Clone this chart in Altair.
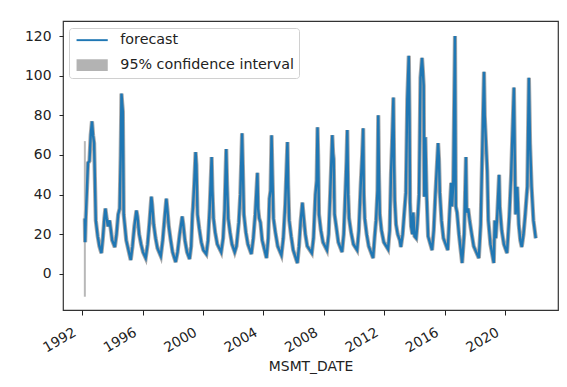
import altair as alt
import pandas as pd

# ---- data ----
dates = [
    "1992-03-05", "1992-03-12", "1992-03-25", "1992-05-20", "1992-06-25", "1992-07-25", "1992-08-25", "1992-09-20", "1992-10-15", "1992-11-25",
    "1993-01-10", "1993-02-20", "1993-04-10", "1993-05-15", "1993-06-20", "1993-07-15", "1993-08-15", "1993-09-15", "1993-10-25", "1993-11-25", "1993-12-25",
    "1994-02-28", "1994-04-10", "1994-05-20", "1994-06-25", "1994-07-20", "1994-08-08", "1994-08-25", "1994-09-10", "1994-10-01", "1994-10-25", "1994-12-01",
    "1995-03-20", "1995-05-01", "1995-06-15", "1995-08-05", "1995-08-30", "1995-10-10", "1995-11-25",
    "1996-01-10", "1996-03-15", "1996-05-01", "1996-06-15", "1996-07-31", "1996-08-20", "1996-09-25", "1996-11-10", "1996-12-25",
    "1997-03-15", "1997-05-01", "1997-06-15", "1997-07-28", "1997-08-20", "1997-09-25", "1997-11-10", "1997-12-25",
    "1998-03-10", "1998-04-25", "1998-06-15", "1998-08-15", "1998-09-10", "1998-10-20", "1998-12-10",
    "1999-02-10", "1999-03-20", "1999-04-20", "1999-05-01", "1999-06-01", "1999-07-05", "1999-07-25", "1999-08-20", "1999-10-01", "1999-11-20",
    "2000-01-10", "2000-03-20", "2000-05-01", "2000-06-10", "2000-07-27", "2000-08-15", "2000-09-10", "2000-10-20", "2000-12-10",
    "2001-03-15", "2001-05-01", "2001-06-05", "2001-07-15", "2001-08-05", "2001-09-01", "2001-10-15", "2001-12-01",
    "2002-02-05", "2002-03-20", "2002-05-15", "2002-06-20", "2002-08-02", "2002-08-20", "2002-09-15", "2002-11-01", "2002-12-20",
    "2003-03-15", "2003-05-01", "2003-06-15", "2003-08-08", "2003-08-25", "2003-09-20", "2003-10-20", "2003-12-01",
    "2004-03-15", "2004-04-25", "2004-05-25", "2004-06-20", "2004-07-15", "2004-08-05", "2004-08-30", "2004-10-15", "2004-12-10",
    "2005-03-10", "2005-04-25", "2005-06-10", "2005-08-03", "2005-08-20", "2005-09-15", "2005-11-01", "2005-12-20",
    "2006-04-01", "2006-05-10", "2006-06-20", "2006-07-31", "2006-08-25", "2006-10-10", "2006-11-25",
    "2007-03-15", "2007-04-25", "2007-06-10", "2007-07-10", "2007-07-31", "2007-08-15", "2007-09-05", "2007-10-20", "2007-12-10",
    "2008-03-15", "2008-04-25", "2008-06-01", "2008-07-22", "2008-08-10", "2008-08-25", "2008-09-15", "2008-10-25", "2008-12-15",
    "2009-03-15", "2009-04-25", "2009-06-05", "2009-07-01", "2009-07-20", "2009-08-10", "2009-09-01", "2009-10-20", "2009-12-15",
    "2010-03-15", "2010-04-25", "2010-06-10", "2010-07-15", "2010-08-08", "2010-08-25", "2010-09-15", "2010-11-01", "2010-12-20",
    "2011-04-05", "2011-05-10", "2011-06-15", "2011-07-20", "2011-08-08", "2011-08-25", "2011-09-15", "2011-10-25", "2011-12-20",
    "2012-04-01", "2012-05-10", "2012-06-10", "2012-07-05", "2012-08-08", "2012-08-25", "2012-09-10", "2012-10-10", "2012-11-20",
    "2013-01-10", "2013-02-05", "2013-03-20", "2013-04-25", "2013-06-05", "2013-07-10", "2013-08-15", "2013-09-01", "2013-09-15", "2013-10-10", "2013-11-10", "2013-12-01",
    "2014-01-01", "2014-02-10", "2014-03-10", "2014-04-20", "2014-05-25", "2014-07-01", "2014-07-20", "2014-08-10", "2014-08-25", "2014-09-20", "2014-10-20", "2014-11-25",
    "2015-03-01", "2015-04-10", "2015-05-20", "2015-07-25", "2015-08-15", "2015-09-05", "2015-10-15", "2015-12-01",
    "2016-03-15", "2016-04-25", "2016-06-05", "2016-06-25", "2016-07-25", "2016-09-05", "2016-09-25", "2016-10-25", "2016-12-10",
    "2017-02-25", "2017-04-15", "2017-05-28", "2017-06-15", "2017-07-20", "2017-08-25", "2017-10-15", "2017-12-01",
    "2018-02-01", "2018-04-05", "2018-05-20", "2018-06-25", "2018-08-08", "2018-08-25", "2018-10-25", "2018-11-20",
    "2019-01-10", "2019-04-01", "2019-04-25", "2019-05-20", "2019-06-25", "2019-08-08", "2019-08-25", "2019-10-10", "2019-12-01",
    "2020-02-15", "2020-04-10", "2020-05-25", "2020-07-31", "2020-08-20", "2020-09-10", "2020-10-20", "2020-11-25",
    "2021-01-01", "2021-02-05", "2021-03-20", "2021-05-01", "2021-06-20", "2021-07-28", "2021-08-25", "2021-10-01", "2021-11-15", "2022-01-10",
]
forecast = [
    28, 16, 27, 56, 57, 70, 77, 70, 66, 27,
    19, 14, 10.5, 18, 28, 33, 28, 24, 27, 22, 17,
    13.5, 20, 30, 33, 60, 91, 86, 82, 30, 25, 17,
    7, 14, 24, 32, 29, 20, 15,
    11, 8, 15, 26, 39, 35, 25, 18, 13,
    9, 17, 28, 38, 33, 24, 17, 11,
    6, 11, 20, 29, 25, 17, 11,
    7.5, 14, 30, 33, 45, 61.5, 55, 30, 23, 16,
    12, 10, 17, 33, 59, 42, 28, 21, 15,
    11, 18, 32, 63, 45, 28, 21, 15,
    11, 14, 26, 40, 71, 55, 30, 21, 15,
    10, 18, 30, 51, 33, 28, 26, 17,
    8, 18, 38, 42, 70, 50, 28, 21, 14,
    9.5, 18, 35, 66.5, 45, 27, 19, 12,
    5.5, 14, 27, 36, 30, 20, 14,
    10.5, 18, 40, 47, 74, 60, 30, 22, 16,
    12, 20, 40, 70, 61, 58, 30, 24, 16,
    11, 20, 42, 57, 72.6, 40, 28, 21, 15,
    12, 22, 45, 60, 73.5, 40, 28, 20, 14,
    8, 18, 27, 42, 80, 50, 30, 22, 16,
    12.5, 22, 50, 65, 89, 55, 37, 25, 20,
    17, 13.6, 20, 30, 41, 88, 110, 80, 36, 24, 20, 31,
    19, 18, 25, 40, 99, 109, 103, 95, 39, 69, 40, 19,
    12, 22, 40, 66, 58, 41, 27, 18,
    12, 30, 46, 34, 45, 120, 34, 31, 20,
    5.5, 20, 59, 31, 33, 27, 20, 14,
    11, 8, 25, 60, 102, 80, 52, 27,
    15, 5.5, 27, 18, 30, 50, 34, 22, 15,
    10.5, 29, 50, 94, 60, 30, 44, 25,
    17, 13.6, 20, 30, 44, 99, 66, 44, 27, 18,
]
ci_date = ["1992-03-05"]
ci_lower = [-11.5]
ci_upper = [67.0]
series_names = ["forecast", "95% confidence interval"]
x_tick_years = [1992, 1996, 2000, 2004, 2008, 2012, 2016, 2020]
y_ticks = [0, 20, 40, 60, 80, 100, 120]

df = pd.DataFrame({"MSMT_DATE": dates, "forecast": forecast})
ci_df = pd.DataFrame({"MSMT_DATE": ci_date, "lower": ci_lower, "upper": ci_upper})
leg_df = pd.DataFrame({"series": series_names})

FONT = "DejaVu Sans"

x_scale = alt.Scale(
    type="utc",
    domain=[alt.DateTime(year=1990, month=9, date=24, utc=True),
            alt.DateTime(year=2023, month=7, date=2, utc=True)],
)
y_scale = alt.Scale(domain=[-18.2, 127.6], nice=False, zero=False)

x_axis = alt.Axis(
    values=[alt.DateTime(year=y, month=1, date=1, utc=True) for y in x_tick_years],
    labelExpr="utcFormat(datum.value, '%Y')",
    labelAngle=-30, labelAlign="right", labelBaseline="top",
    labelOffset=-11, labelPadding=10,
    tickSize=5, tickColor="#222", domain=False, grid=False,
    labelFont=FONT, labelFontSize=13.9, labelColor="#222",
    title="MSMT_DATE", titleFont=FONT, titleFontSize=13.9, titleFontWeight="normal",
    titleColor="#222", titleY=60, titleBaseline="alphabetic",
)
y_axis = alt.Axis(
    values=y_ticks, tickSize=4, tickColor="#222", domain=False, grid=False,
    labelFont=FONT, labelFontSize=13.9, labelColor="#222", labelPadding=8,
    title=None,
)

x_enc = alt.X("MSMT_DATE:T", scale=x_scale, axis=x_axis)

band = alt.Chart(df).mark_line(color="#a9a9a9", strokeWidth=4.2).encode(
    x=x_enc, y=alt.Y("forecast:Q", scale=y_scale, axis=y_axis)
)
ci_rule = alt.Chart(ci_df).mark_rule(color="#b8b8b8", strokeWidth=2).encode(
    x=alt.X("MSMT_DATE:T"), y=alt.Y("lower:Q"), y2="upper:Q"
)
line = alt.Chart(df).mark_line(color="#1f77b4", strokeWidth=2.4).encode(
    x=alt.X("MSMT_DATE:T"), y=alt.Y("forecast:Q")
)

legend = alt.Legend(
    title=None, orient="none", legendX=6, legendY=7, direction="vertical",
    fillColor="rgba(255,255,255,0.8)", strokeColor="#d0d0d0", cornerRadius=3,
    padding=5, symbolSize=144, symbolStrokeWidth=0, symbolOpacity=1,
    symbolOffset=11, labelLimit=400,
    labelFont=FONT, labelFontSize=14.3, labelColor="#222", labelOffset=21,
    rowPadding=10,
)
legend_layer = alt.Chart(leg_df).mark_point(filled=True, size=0).encode(
    color=alt.Color("series:N", scale=alt.Scale(domain=series_names, range=["#1f77b4", "#b3b3b3"]), legend=legend),
    shape=alt.Shape("series:N", scale=alt.Scale(domain=series_names,
                    range=["M-2.6,-0.16H2.6V0.16H-2.6Z", "M-2.6,-0.98H2.6V0.98H-2.6Z"]), legend=legend),
)

chart = alt.layer(band, ci_rule, line, legend_layer).properties(
    width=495, height=289,
    autosize=alt.AutoSizeParams(type="none"),
    padding={"left": 55, "top": 13, "right": 1, "bottom": 69},
    background="white",
).configure_view(stroke="#333", strokeWidth=1.2)

chart.save("out.html", embed_options={"renderer": "svg", "actions": False})
